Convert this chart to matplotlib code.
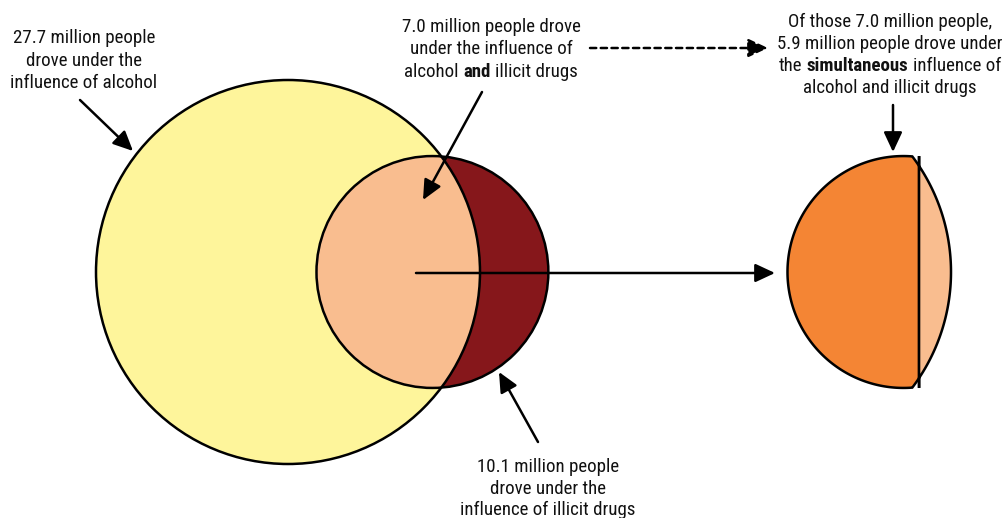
import numpy as np
import matplotlib.pyplot as plt
from matplotlib import font_manager as fm
from matplotlib.patches import Circle, Polygon

# pick a narrow sans if one is installed
names = {f.name for f in fm.fontManager.ttflist}
cond = {f.name for f in fm.fontManager.ttflist if 'condensed' in str(f.stretch)}
family = 'Liberation Sans'
for cand in ['Liberation Sans Narrow', 'Roboto Condensed', 'DejaVu Sans Condensed']:
    if cand in names:
        family = cand
        break
stretch = 'normal'
if family == 'Liberation Sans' and 'DejaVu Sans' in cond:
    family, stretch = 'DejaVu Sans', 'condensed'
plt.rcParams['font.family'] = [family, 'DejaVu Sans']
plt.rcParams['font.stretch'] = stretch

# data (millions of people)
alcohol = 27.7
drugs = 10.1
both = 7.0
simultaneous = 5.9

# colours
c_alcohol = '#FEF59B'
c_drugs = '#86171B'
c_both = '#F9BD8F'
c_simul = '#F48534'

# layout (pixels)
R = 192.0                      # radius of the alcohol circle
cx, cy = 288.0, 272.0          # centre of the alcohol circle
shift = 471.0                  # offset of the detail shape to the right
lw = 1.8

r = R * np.sqrt(drugs / alcohol)


def lens_area(d):
    a1 = np.arccos((d**2 + r**2 - R**2) / (2 * d * r))
    a2 = np.arccos((d**2 + R**2 - r**2) / (2 * d * R))
    k = np.sqrt((-d + r + R) * (d + r - R) * (d - r + R) * (d + r + R))
    return r**2 * a1 + R**2 * a2 - 0.5 * k


# distance between centres so the overlap area matches "both"
target = both / alcohol * np.pi * R**2
lo, hi = R - r + 1e-6, R + r - 1e-6
for i in range(80):
    mid = (lo + hi) / 2
    if lens_area(mid) > target:
        lo = mid
    else:
        hi = mid
d = (lo + hi) / 2

# lens outline, relative to centre of alcohol circle
a = (d**2 + R**2 - r**2) / (2 * d)
hc = np.sqrt(R**2 - a**2)
th0 = np.arctan2(hc, a - d)
th = np.linspace(th0, 2 * np.pi - th0, 300)
ph0 = np.arctan2(hc, a)
ph = np.linspace(-ph0, ph0, 300)
lx = np.concatenate([d + r * np.cos(th), R * np.cos(ph)])
ly = np.concatenate([r * np.sin(th), R * np.sin(ph)])

# chord splitting the lens into simultaneous / not simultaneous
xs = np.linspace(d - r, R, 4000)
hs = np.sqrt(np.clip(r**2 - (xs - d)**2, 0, None))
hb = np.sqrt(np.clip(R**2 - xs**2, 0, None))
hh = 2 * np.minimum(hs, hb)
cum = np.concatenate([[0], np.cumsum((hh[1:] + hh[:-1]) / 2 * np.diff(xs))])
c = np.interp(simultaneous / both * cum[-1], cum, xs)

fig = plt.figure(figsize=[10.08, 5.18], dpi=100)
ax = fig.add_axes([0, 0, 1, 1])
ax.set_xlim(0, 1008)
ax.set_ylim(518, 0)
ax.axis('off')

# left venn
ax.add_patch(Circle((cx, cy), R, fc=c_alcohol, ec='none', zorder=1))
ax.add_patch(Circle((cx + d, cy), r, fc=c_drugs, ec='none', zorder=2))
ax.add_patch(Polygon(np.c_[cx + lx, cy + ly], closed=True, fc=c_both, ec='none', zorder=3))
ax.add_patch(Circle((cx, cy), R, fill=False, ec='black', lw=lw, zorder=4))
ax.add_patch(Circle((cx + d, cy), r, fill=False, ec='black', lw=lw, zorder=4))

# right detail: the overlap split at the chord
ox = cx + shift
ax.add_patch(Polygon(np.c_[ox + np.minimum(lx, c), cy + ly], closed=True,
                     fc=c_simul, ec='black', lw=lw, zorder=3))
ax.add_patch(Polygon(np.c_[ox + np.maximum(lx, c), cy + ly], closed=True,
                     fc=c_both, ec='black', lw=lw, zorder=3))

# arrows
ap = dict(arrowstyle='-|>,head_length=0.6,head_width=0.28', color='black',
          lw=lw, shrinkA=0, shrinkB=0, mutation_scale=20)
ax.annotate('', xy=(133, 151), xytext=(80, 100), arrowprops=ap, zorder=5)
ax.annotate('', xy=(423, 200), xytext=(482, 92), arrowprops=ap, zorder=5)
ax.annotate('', xy=(499, 372), xytext=(538, 442), arrowprops=ap, zorder=5)
ax.annotate('', xy=(893, 152), xytext=(893, 105), arrowprops=ap, zorder=5)
ax.annotate('', xy=(775, 273), xytext=(416, 273), arrowprops=ap, zorder=5)
ap_d = dict(ap, linestyle=(0, (2.5, 1.8)))
ax.annotate('', xy=(768, 48), xytext=(590, 48), arrowprops=ap_d, zorder=5)

# text with mixed weights, centred on x
renderer = fig.canvas.get_renderer()


def width(s, w, size):
    t = ax.text(0, 0, s, fontsize=size, fontweight=w)
    bw = t.get_window_extent(renderer).width
    t.remove()
    return bw


# size the font so the first label is as wide as in the original (~142 px)
fs = 13.5 * 142 / width(f'{alcohol:.1f} million people', 'normal', 13.5)
fs = min(fs, 14.5)
space = width('x x', 'normal', fs) - width('xx', 'normal', fs)


def rich_line(x, y, parts):
    ws = [width(s, w, fs) for s, w in parts]
    total = sum(ws) + space * (len(parts) - 1)
    x0 = x - total / 2
    for (s, w), bw in zip(parts, ws):
        ax.text(x0, y, s, fontsize=fs, fontweight=w, ha='left', va='center',
                color='#111111', zorder=6)
        x0 += bw + space


def label(x, y0, lines, step=22.5):
    for i, ln in enumerate(lines):
        if isinstance(ln, str):
            ln = [(ln, 'normal')]
        rich_line(x, y0 + i * step, ln)


label(84, 38, [f'{alcohol:.1f} million people', 'drove under the',
               'influence of alcohol'])
label(491, 27, [f'{both:.1f} million people drove', 'under the influence of',
                [('alcohol', 'normal'), ('and', 'bold'), ('illicit drugs', 'normal')]])
label(890, 22, [f'Of those {both:.1f} million people,',
                f'{simultaneous:.1f} million people drove under',
                [('the', 'normal'), ('simultaneous', 'bold'), ('influence of', 'normal')],
                'alcohol and illicit drugs'], step=22)
label(548, 467, [f'{drugs:.1f} million people', 'drove under the',
                 'influence of illicit drugs'], step=21.5)

plt.savefig('out.png')
